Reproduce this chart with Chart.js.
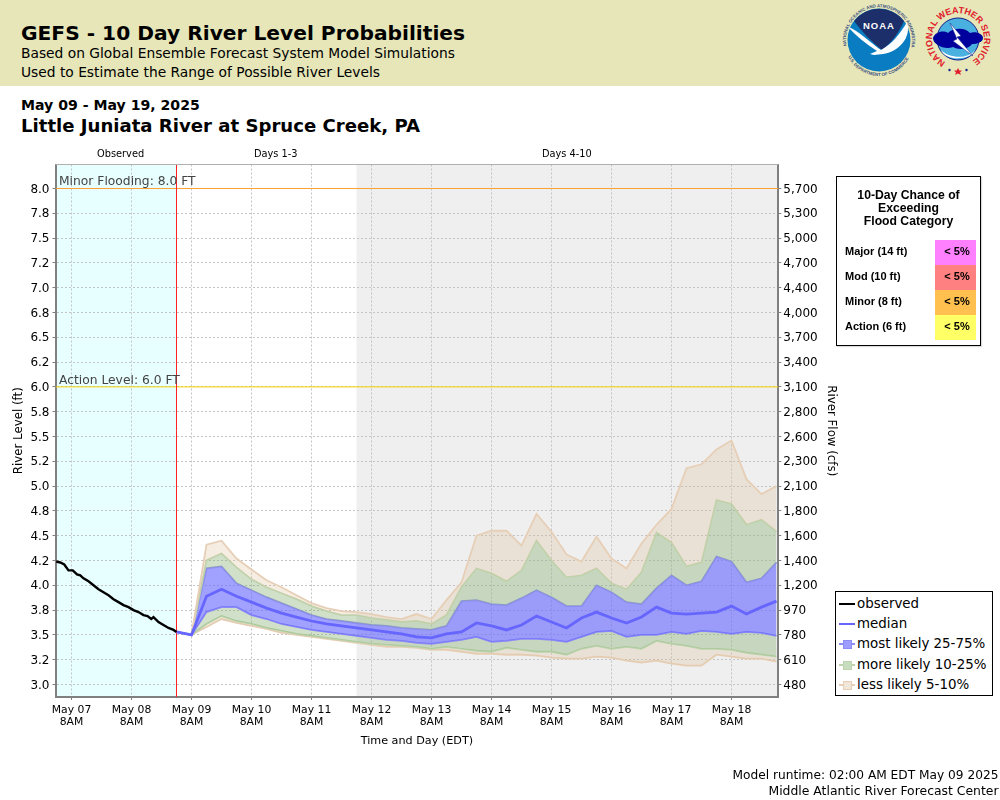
<!DOCTYPE html>
<html>
<head>
<meta charset="utf-8">
<title>GEFS - 10 Day River Level Probabilities</title>
<script src="https://cdn.jsdelivr.net/npm/chart.js@4"></script>
<style>
  html, body { margin: 0; padding: 0; background: #fff; overflow: hidden; }
  #page { position: relative; width: 1000px; height: 800px; font-family: "DejaVu Sans", sans-serif; color: #000; }
  #chartCanvas { position: absolute; left: 0; top: 0; }
  .txt { position: absolute; white-space: nowrap; line-height: 1; }
  #band { position: absolute; left: 0; top: 0; width: 1000px; height: 86px; background: #e6e6b8; }
  #logos { position: absolute; left: 840px; top: 0; }
  #floodBox { position: absolute; left: 836px; top: 176px; width: 143px; height: 168px; border: 1px solid #000; box-shadow: 1px 1px 1px #ddd; font-family: "Liberation Sans", sans-serif; font-weight: bold; background: #fff; }
  #floodTitle { position: absolute; left: 0; top: 12px; width: 100%; text-align: center; font-size: 12.2px; line-height: 13px; }
  .floodRow { position: absolute; left: 8px; font-size: 11px; line-height: 23px; }
  .floodCell { position: absolute; left: 98px; width: 41px; height: 25px; font-size: 11px; line-height: 23px; text-align: center; padding-left: 0; text-indent: 3px; }
  #legendBox { position: absolute; left: 835px; top: 591px; width: 156px; height: 103px; border: 1px solid #000; background: #fff; }
  .legRow { position: absolute; left: 0; width: 100%; height: 20px; font-size: 13.4px; line-height: 20px; }
  .legRow span { position: absolute; left: 21px; }
  .legLine { position: absolute; left: 3px; top: 9px; width: 16px; height: 2px; }
  .legSwatch { position: absolute; left: 7px; top: 6px; width: 7px; height: 7px; border: 1px solid; }
</style>
</head>
<body>
<div id="page">
  <div id="band"></div>
  <div class="txt" style="left:21px;top:23px;font-size:20.2px;font-weight:bold">GEFS - 10 Day River Level Probabilities</div>
  <div class="txt" style="left:21px;top:47px;font-size:13.8px">Based on Global Ensemble Forecast System Model Simulations</div>
  <div class="txt" style="left:21px;top:66px;font-size:13.8px">Used to Estimate the Range of Possible River Levels</div>
  <div class="txt" style="left:21px;top:98px;font-size:14.1px;font-weight:bold">May 09 - May 19, 2025</div>
  <div class="txt" style="left:21px;top:117px;font-size:18.1px;font-weight:bold">Little Juniata River at Spruce Creek, PA</div>

  <svg id="logos" width="160" height="86" viewBox="840 0 160 86">
    <defs>
      <path id="noaaTop" d="M 846.5 46 A 33 33 0 1 1 911.5 46"/>
      <path id="noaaBot" d="M 845 42 A 34 34 0 0 0 913 42"/>
      <path id="nwsRing" d="M 945.5 62 A 26 26 0 1 1 970.5 62"/>
    </defs>
    <circle cx="879" cy="40" r="31.5" fill="#0a7cc1"/>
    <path d="M 854 21 A 31.5 31.5 0 0 1 904 21 C 898 34 892 42 882 50 C 872 42 862 32 854 21 Z" fill="#1c2f6b"/>
    <path d="M 848 27 C 858 30 872 44 881 50 C 892 44 900 34 907 22 C 912 38 898 52 883 54 L 874 55 L 870 54 L 877 51 C 866 44 856 36 848 27 Z" fill="#fff"/>
    <text x="879" y="29" text-anchor="middle" font-family="Liberation Sans" font-weight="bold" font-size="9.5" fill="#fff" letter-spacing="1">NOAA</text>
    <text font-family="Liberation Sans" font-weight="bold" font-size="4.4" fill="#3a5080"><textPath href="#noaaTop">NATIONAL OCEANIC AND ATMOSPHERIC ADMINISTRATION</textPath></text>
    <text font-family="Liberation Sans" font-weight="bold" font-size="4.4" fill="#3a5080"><textPath href="#noaaBot" startOffset="14%">U.S. DEPARTMENT OF COMMERCE</textPath></text>

    <circle cx="958" cy="39" r="21" fill="#4ab0e0" stroke="#14208c" stroke-width="1"/>
    <path d="M 933 38 C 935 32 943 30 948 33 C 954 27 966 28 970 33 C 976 31 983 34 983 38 C 983 42 977 44 972 44 C 968 50 958 50 953 47 C 945 50 933 45 933 38 Z" fill="#00009c"/>
    <path d="M 941 50 C 948 58 968 60 975 50 C 972 60 946 62 941 50 Z" fill="#fff"/>
    <path d="M 950 23 L 961 36 L 957 37 L 973 56 L 953 41 L 957 39 Z" fill="#fff" stroke="#14208c" stroke-width="0.5"/>
    <text font-family="Liberation Sans" font-weight="bold" font-size="9" fill="#e0202c"><textPath href="#nwsRing" textLength="135" lengthAdjust="spacing">NATIONAL WEATHER SERVICE</textPath></text>
    <polygon points="958,68 959.3,70.5 962,70.5 960,72.5 961,75 958,73.5 955,75 956,72.5 954,70.5 956.7,70.5" fill="#e0202c"/>
    <circle cx="949.5" cy="70" r="1.2" fill="#14208c"/>
    <circle cx="966.5" cy="70" r="1.2" fill="#14208c"/>
  </svg>

  <canvas id="chartCanvas" width="1000" height="800"></canvas>

  <div class="txt" style="left:97px;top:149px;font-size:9.8px">Observed</div>
  <div class="txt" style="left:254px;top:149px;font-size:9.8px">Days 1-3</div>
  <div class="txt" style="left:542px;top:149px;font-size:9.8px">Days 4-10</div>

  <div id="floodBox">
    <div id="floodTitle">10-Day Chance of<br>Exceeding<br>Flood Category</div>
  </div>

  <div id="legendBox"></div>

  <div class="txt" style="right:1.5px;top:769px;font-size:12.2px">Model runtime: 02:00 AM EDT May 09 2025</div>
  <div class="txt" style="right:1.5px;top:785px;font-size:12.4px">Middle Atlantic River Forecast Center</div>
</div>

<script>
const dayLabels = ['May 07', 'May 08', 'May 09', 'May 10', 'May 11', 'May 12', 'May 13', 'May 14', 'May 15', 'May 16', 'May 17', 'May 18'];
const levelLabels = ['8.0', '7.8', '7.5', '7.2', '7.0', '6.8', '6.5', '6.2', '6.0', '5.8', '5.5', '5.2', '5.0', '4.8', '4.5', '4.2', '4.0', '3.8', '3.5', '3.2', '3.0'];
const flowLabels = ['5,700', '5,300', '5,000', '4,700', '4,400', '4,000', '3,700', '3,400', '3,100', '2,800', '2,600', '2,300', '2,100', '1,800', '1,600', '1,400', '1,200', '970', '780', '610', '480'];

// hours after May 07 8AM
const observedHours = [-6.1, -4.5, -2.9, -1.2, 0.5, 2.2, 3.5, 4.8, 6.8, 8.8, 10.8, 12.8, 14.8, 16.8, 18.8, 20.8, 22.8, 24.8, 26.8, 28.8, 30.4, 31.9, 32.8, 34.8, 36.8, 38.8, 40.8, 42];
const observedLevels = [4.24, 4.23, 4.21, 4.15, 4.15, 4.11, 4.10, 4.07, 4.04, 4.00, 3.96, 3.93, 3.90, 3.86, 3.83, 3.80, 3.78, 3.75, 3.73, 3.70, 3.69, 3.66, 3.68, 3.63, 3.60, 3.57, 3.55, 3.53];

const forecastHours = [42, 48, 54, 60, 66, 72, 78, 84, 90, 96, 102, 108, 114, 120, 126, 132, 138, 144, 150, 156, 162, 168, 174, 180, 186, 192, 198, 204, 210, 216, 222, 228, 234, 240, 246, 252, 258, 264, 270, 276, 282];
const lessHigh = [3.53, 3.50, 4.41, 4.45, 4.27, 4.16, 4.05, 3.98, 3.90, 3.82, 3.77, 3.74, 3.73, 3.71, 3.68, 3.66, 3.71, 3.66, 3.85, 4.03, 4.50, 4.55, 4.55, 4.40, 4.72, 4.54, 4.31, 4.24, 4.49, 4.27, 4.17, 4.42, 4.61, 4.77, 5.18, 5.22, 5.37, 5.46, 5.07, 4.92, 5.00];
const moreHigh = [3.53, 3.50, 4.25, 4.32, 4.18, 4.06, 3.98, 3.92, 3.86, 3.79, 3.74, 3.70, 3.70, 3.67, 3.65, 3.63, 3.64, 3.61, 3.70, 3.98, 4.17, 4.12, 4.04, 4.15, 4.45, 4.25, 4.08, 4.10, 4.17, 4.02, 3.96, 4.13, 4.53, 4.43, 4.19, 4.23, 4.86, 4.82, 4.61, 4.66, 4.54];
const mostHigh = [3.53, 3.50, 4.17, 4.19, 4.02, 3.95, 3.88, 3.82, 3.76, 3.70, 3.66, 3.64, 3.62, 3.60, 3.59, 3.57, 3.56, 3.55, 3.59, 3.84, 3.85, 3.81, 3.80, 3.87, 3.95, 3.88, 3.79, 3.79, 4.00, 3.93, 3.83, 3.81, 3.97, 4.10, 4.00, 4.04, 4.29, 4.24, 4.03, 4.07, 4.23];
const medianLevels = [3.53, 3.50, 3.89, 3.96, 3.89, 3.83, 3.77, 3.72, 3.68, 3.64, 3.61, 3.59, 3.57, 3.55, 3.53, 3.51, 3.48, 3.47, 3.51, 3.53, 3.62, 3.59, 3.55, 3.60, 3.69, 3.63, 3.57, 3.67, 3.73, 3.67, 3.62, 3.68, 3.78, 3.72, 3.71, 3.72, 3.73, 3.79, 3.71, 3.78, 3.84];
const mostLow = [3.53, 3.50, 3.73, 3.78, 3.78, 3.70, 3.66, 3.61, 3.58, 3.55, 3.53, 3.51, 3.49, 3.47, 3.45, 3.44, 3.42, 3.41, 3.43, 3.45, 3.48, 3.43, 3.44, 3.46, 3.46, 3.45, 3.43, 3.48, 3.53, 3.54, 3.48, 3.50, 3.50, 3.53, 3.51, 3.54, 3.53, 3.51, 3.53, 3.52, 3.49];
const moreLow = [3.53, 3.50, 3.61, 3.69, 3.64, 3.61, 3.57, 3.54, 3.51, 3.49, 3.47, 3.45, 3.43, 3.41, 3.40, 3.39, 3.38, 3.36, 3.38, 3.36, 3.34, 3.33, 3.37, 3.35, 3.33, 3.33, 3.30, 3.36, 3.39, 3.36, 3.38, 3.36, 3.44, 3.41, 3.39, 3.36, 3.36, 3.35, 3.32, 3.30, 3.28];
const lessLow = [3.53, 3.50, 3.58, 3.66, 3.62, 3.59, 3.56, 3.52, 3.50, 3.48, 3.46, 3.44, 3.42, 3.40, 3.38, 3.38, 3.37, 3.35, 3.35, 3.33, 3.31, 3.31, 3.30, 3.30, 3.29, 3.27, 3.26, 3.26, 3.28, 3.27, 3.24, 3.22, 3.24, 3.21, 3.19, 3.19, 3.30, 3.28, 3.26, 3.26, 3.23];

const floodCategories = ['Major (14 ft)', 'Mod (10 ft)', 'Minor (8 ft)', 'Action (6 ft)'];
const floodChances = ['< 5%', '< 5%', '< 5%', '< 5%'];
const floodColors = ['#ff80ff', '#ff8080', '#ffc050', '#ffff66'];

const X_MIN = -6.4, X_MAX = 282.72;
const Y_MIN = 2.8739, Y_MAX = 8.2419;
const NOW_HOUR = 42, DAYS4_HOUR = 114;
const MINOR_LEVEL = 8, ACTION_LEVEL = 6;

const lessColor = { line: '#e6cfb6', fill: 'rgba(222,190,150,0.28)' };
const moreColor = { line: '#bdd4ae', fill: 'rgba(141,181,121,0.40)' };
const mostColor = { line: '#8c8cf5', fill: 'rgba(104,104,255,0.62)' };
const medianColor = '#6666ff';
const gridColor = '#c4c4c4';

function points(xs, ys) {
    return xs.map((x, i) => ({ x: x, y: ys[i] }));
}

function band(label, ys, color, fill) {
    return {
        label: label,
        data: points(forecastHours, ys),
        borderColor: color.line,
        backgroundColor: fill ? fill.fill : 'transparent',
        borderWidth: 1.8,
        fill: fill ? '+1' : false,
        order: 5
    };
}

function tickIndex(value) {
    return Math.round((8 - value) / 0.25);
}

const shadePlugin = {
    id: 'shade',
    beforeDraw(chart) {
        const ctx = chart.ctx;
        const area = chart.chartArea;
        const x = chart.scales.x;
        ctx.save();
        ctx.fillStyle = '#e8ffff';
        ctx.fillRect(area.left, area.top, x.getPixelForValue(NOW_HOUR) - area.left, area.bottom - area.top);
        ctx.fillStyle = '#efefef';
        ctx.fillRect(x.getPixelForValue(DAYS4_HOUR), area.top, area.right - x.getPixelForValue(DAYS4_HOUR), area.bottom - area.top);
        ctx.restore();
    },
    afterDatasetsDraw(chart) {
        const ctx = chart.ctx;
        const area = chart.chartArea;
        const y = chart.scales.y;
        ctx.save();
        ctx.font = '12.3px "DejaVu Sans"';
        ctx.fillStyle = '#444';
        ctx.textBaseline = 'alphabetic';
        ctx.fillText('Minor Flooding: 8.0 FT', area.left + 3.5, y.getPixelForValue(MINOR_LEVEL) - 3);
        ctx.fillText('Action Level: 6.0 FT', area.left + 3.5, y.getPixelForValue(ACTION_LEVEL) - 3);
        ctx.strokeStyle = '#b0b0b0';
        ctx.lineWidth = 1;
        ctx.beginPath();
        ctx.moveTo(area.left, area.top);
        ctx.lineTo(area.right, area.top);
        ctx.stroke();
        ctx.restore();
    }
};

new Chart(document.getElementById('chartCanvas'), {
    type: 'line',
    data: {
        datasets: [
            { label: 'observed', data: points(observedHours, observedLevels), borderColor: '#000', borderWidth: 2.4, order: 0 },
            { label: 'median', data: points(forecastHours, medianLevels), borderColor: medianColor, borderWidth: 2.8, order: 1 },
            { label: 'now', data: points([NOW_HOUR, NOW_HOUR], [Y_MIN, Y_MAX]), borderColor: '#ff2020', borderWidth: 1, order: 2 },
            { label: 'minor', data: points([X_MIN, X_MAX], [MINOR_LEVEL, MINOR_LEVEL]), borderColor: '#ffa030', borderWidth: 1, order: 3 },
            { label: 'action', data: points([X_MIN, X_MAX], [ACTION_LEVEL, ACTION_LEVEL]), borderColor: '#f5d400', borderWidth: 1, order: 3 },
            band('less likely high', lessHigh, lessColor, lessColor),
            band('more likely high', moreHigh, moreColor, moreColor),
            band('most likely high', mostHigh, mostColor, mostColor),
            band('most likely low', mostLow, mostColor, moreColor),
            band('more likely low', moreLow, moreColor, lessColor),
            band('less likely low', lessLow, lessColor, null)
        ]
    },
    options: {
        responsive: false,
        animation: false,
        devicePixelRatio: 1,
        layout: { padding: { left: 0, top: 164.5, right: 161.7, bottom: 52.4 } },
        elements: { point: { radius: 0 }, line: { tension: 0, fill: false } },
        plugins: { legend: { display: false }, tooltip: { enabled: false } },
        scales: {
            x: {
                type: 'linear',
                min: X_MIN,
                max: X_MAX,
                afterFit(scale) { scale.height = 50.6; },
                title: { display: true, text: 'Time and Day (EDT)', color: '#000', padding: 0, font: { family: 'DejaVu Sans', size: 11.2 } },
                grid: { color: gridColor, tickColor: '#808080', tickLength: 3 },
                border: { color: '#808080', width: 2, dash: [2, 2] },
                ticks: {
                    stepSize: 24,
                    includeBounds: false,
                    autoSkip: false,
                    maxRotation: 0,
                    padding: 4,
                    color: '#000',
                    font: { family: 'DejaVu Sans', size: 10.8, lineHeight: 1.1 },
                    callback(value) { return [dayLabels[Math.round(value / 24)], '8AM']; }
                }
            },
            y: {
                position: 'left',
                min: Y_MIN,
                max: Y_MAX,
                afterFit(scale) { scale.width = 55.5; },
                title: { display: true, text: 'River Level (ft)', color: '#000', padding: { top: 11.4, bottom: 0 }, font: { family: 'DejaVu Sans', size: 11.8 } },
                grid: { color: gridColor, tickColor: '#808080', tickLength: 3 },
                border: { color: '#808080', width: 2, dash: [2, 2] },
                ticks: {
                    stepSize: 0.25,
                    includeBounds: false,
                    autoSkip: false,
                    padding: 3,
                    labelOffset: 1,
                    color: '#000',
                    font: { family: 'DejaVu Sans', size: 12 },
                    callback(value) { return levelLabels[tickIndex(value)]; }
                }
            },
            y2: {
                position: 'right',
                min: Y_MIN,
                max: Y_MAX,
                afterFit(scale) { scale.width = 60; },
                title: { display: true, text: 'River Flow (cfs)', color: '#000', padding: 0, font: { family: 'DejaVu Sans', size: 11.8 } },
                grid: { drawOnChartArea: false, color: '#808080', tickLength: 3 },
                border: { color: '#808080', width: 2 },
                ticks: {
                    stepSize: 0.25,
                    includeBounds: false,
                    autoSkip: false,
                    padding: 2,
                    labelOffset: 1,
                    color: '#000',
                    font: { family: 'DejaVu Sans', size: 12 },
                    callback(value) { return flowLabels[tickIndex(value)]; }
                }
            }
        }
    },
    plugins: [shadePlugin]
});

// flood table and legend built from the arrays above
const floodBox = document.getElementById('floodBox');
floodCategories.forEach((name, i) => {
    const top = 63 + i * 25;
    const row = document.createElement('div');
    row.className = 'floodRow';
    row.style.top = top + 'px';
    row.textContent = name;
    floodBox.appendChild(row);
    const cell = document.createElement('div');
    cell.className = 'floodCell';
    cell.style.top = top + 'px';
    cell.style.background = floodColors[i];
    cell.textContent = floodChances[i];
    floodBox.appendChild(cell);
});

const legendItems = [
    { label: 'observed', line: '#000', swatch: null },
    { label: 'median', line: medianColor, swatch: null },
    { label: 'most likely 25-75%', line: mostColor.line, swatch: '#9d9dff' },
    { label: 'more likely 10-25%', line: moreColor.line, swatch: '#c8dcc0' },
    { label: 'less likely 5-10%', line: lessColor.line, swatch: '#f0e6da' }
];
const legendBox = document.getElementById('legendBox');
legendItems.forEach((item, i) => {
    const row = document.createElement('div');
    row.className = 'legRow';
    row.style.top = (2 + i * 20.2) + 'px';
    row.innerHTML = '<div class="legLine" style="background:' + item.line + '"></div>' +
        (item.swatch ? '<div class="legSwatch" style="background:' + item.swatch + ';border-color:' + item.line + '"></div>' : '') +
        '<span>' + item.label + '</span>';
    legendBox.appendChild(row);
});
</script>
</body>
</html>
